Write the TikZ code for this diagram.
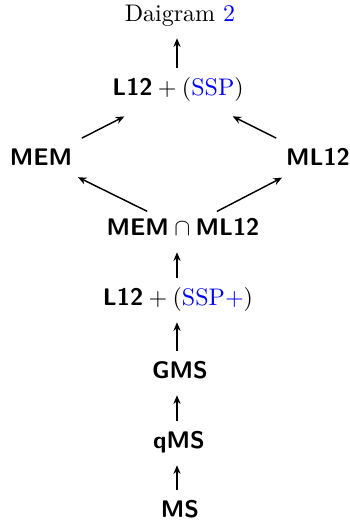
\documentclass[tikz,border=0pt]{standalone}
\usetikzlibrary{arrows.meta}
\newcommand{\sfb}[1]{\textsf{\bfseries #1}}
\begin{document}
\begin{tikzpicture}[x=0.41667pt,y=-0.41667pt,
  lbl/.style={anchor=base,inner sep=4pt,text height=7pt,text depth=2pt},
  arr/.style={-{Stealth[length=3.6pt,width=3pt]},line width=0.6pt,shorten >=1pt}]
\useasboundingbox (0,0) rectangle (350,524);
\node[lbl] (title) at (180,21) {Daigram \textcolor{blue}{2}};
\node[lbl] (top) at (178,95) {\sfb{L12}${}+{}$(\textcolor{blue}{SSP})};
\node[lbl] (mem) at (41,165) {\sfb{MEM}};
\node[lbl] (ml) at (318,165) {\sfb{ML12}};
\node[lbl] (cap) at (183,235) {\sfb{MEM}${}\cap{}$\sfb{ML12}};
\node[lbl] (low) at (178,305) {\sfb{L12}${}+{}$(\textcolor{blue}{SSP+})};
\node[lbl] (gms) at (180,378) {\sfb{GMS}};
\node[lbl] (qms) at (179,448) {\sfb{qMS}};
\node[lbl] (ms) at (180,517) {\sfb{MS}};
\coordinate (col) at (177,0);
\draw[arr] (col |- top.north) -- (col |- title.south);
\draw[arr,shorten >=6pt] (mem) -- (top);
\draw[arr,shorten >=6pt] (ml) -- (top);
\draw[arr,shorten <=-3pt,shorten >=-2pt] (cap) -- (mem);
\draw[arr,shorten <=-3pt,shorten >=-2pt] (cap) -- (ml);
\draw[arr] (col |- low.north) -- (col |- cap.south);
\draw[arr] (col |- gms.north) -- (col |- low.south);
\draw[arr] (col |- qms.north) -- (col |- gms.south);
\draw[arr] (col |- ms.north) -- (col |- qms.south);
\end{tikzpicture}
\end{document}
